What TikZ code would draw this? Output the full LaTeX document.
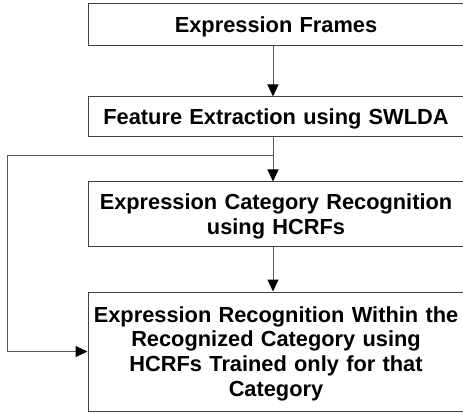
\documentclass[tikz,border=0pt]{standalone}
\usepackage{fontspec}
\setmainfont{Liberation Sans}
\usetikzlibrary{arrows.meta}
\begin{document}
\begin{tikzpicture}[x=1pt,y=-1pt,
  stagebox/.style={draw=black!75, line width=1pt, fill=white, rectangle,
    minimum width=376pt, text width=368pt, inner sep=0pt, align=center,
    font=\fontsize{21.8}{24.8}\selectfont\bfseries,
    execute at begin node={\rule{0pt}{20.3pt}}},
  flow/.style={draw=black!65, line width=1pt,
    -{Triangle[length=12pt,width=11pt,fill=black,color=black]}}]
  \useasboundingbox (0,0) rectangle (463,414);
  \begin{scope}
  \clip (0,0) rectangle (463,414);
  \node[stagebox, minimum height=42pt] (frames) at (276,25) {Expression Frames};
  \node[stagebox, minimum height=40pt] (feat) at (276,117) {Feature Extraction using SWLDA};
  \node[stagebox, minimum height=64pt] (cat) at (276,214) {Expression Category Recognition\\using HCRFs};
  \node[stagebox, minimum height=119pt] (expr) at (276,351.5) {Expression Recognition Within the\\Recognized Category using\\HCRFs Trained only for that\\Category};
  \coordinate (ax) at (273,0);
  \coordinate (split) at (273,156);
  \coordinate (loop) at (7,156);
  \draw[flow] (frames.south -| ax) -- (feat.north -| ax);
  \draw[flow] (feat.south -| ax) -- (cat.north -| ax);
  \draw[flow] (cat.south -| ax) -- (expr.north -| ax);
  \draw[flow] (split) -- (loop) |- (expr.west);
  \end{scope}
\end{tikzpicture}
\end{document}
